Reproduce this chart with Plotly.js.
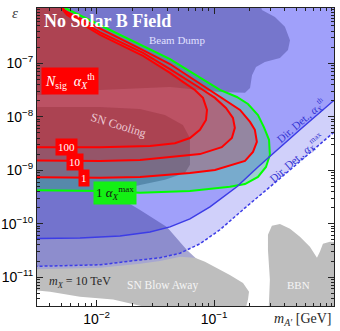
<!DOCTYPE html>
<html>
<head>
<meta charset="utf-8">
<script src="https://cdn.plot.ly/plotly-3.0.1.min.js"></script>
<style>
  html, body { margin: 0; padding: 0; background: white; }
  #myViz { width: 340px; height: 331px; }
</style>
</head>
<body>
<div id="myViz"></div>
<script>
// limits of the frame used to close the shaded regions (GeV, epsilon)
var massLo = 0.001, massHi = 2;
var epsLo = 1e-12, epsHi = 1e-5;

// Dir. Det., alpha_X^max (dashed)
var ddMaxMass = [0.002, 0.0107, 0.0234, 0.0346, 0.0512, 0.0757, 0.112, 0.183, 0.442, 1.03, 1.3];
var ddMaxEps  = [1.56e-11, 1.7e-11, 2.1e-11, 2.3e-11, 2.8e-11, 4.2e-11, 7.7e-11, 1.97e-10, 1.01e-9, 5.0e-9, 7.0e-9];

// Dir. Det., alpha_X^th (solid)
var ddThMass = [0.002, 0.00721, 0.0158, 0.0284, 0.0421, 0.0622, 0.0921, 0.156, 0.236, 0.363, 0.537, 1.03, 1.3];
var ddThEps  = [5.2e-11, 5.4e-11, 5.9e-11, 7.0e-11, 8.7e-11, 1.23e-10, 2.06e-10, 4.9e-10, 1.15e-9, 2.7e-9, 5.7e-9, 1.97e-8, 2.6e-8];

// Beam Dump
var bdMass = [0.002, 0.0107, 0.0421, 0.112, 0.183, 0.202, 0.210, 0.227, 0.27, 0.363, 0.425, 0.442, 0.40, 0.329, 0.255, 0.22, 0.002];
var bdEps  = [2.34e-8, 3.17e-8, 3.6e-8, 2.9e-8, 2.8e-8, 3.45e-8, 6.0e-8, 8.5e-8, 1.06e-7, 1.26e-7, 1.77e-7, 2.7e-7, 4.8e-7, 7.3e-7, 9.9e-7, 3e-6, 3e-6];

// SN Cooling
var snCoolMass = [0.002, 0.0107, 0.0234, 0.0381, 0.0542, 0.0622, 0.0622, 0.0564, 0.0381, 0.0234, 0.0130, 0.0234, 0.0396, 0.0586, 0.0803, 0.0512, 0.002];
var snCoolEps  = [1.52e-8, 1.52e-8, 1.4e-8, 1.08e-8, 7.0e-9, 4.0e-9, 1.26e-9, 8.9e-10, 6.6e-10, 5.3e-10, 3.9e-10, 1.81e-10, 8.7e-11, 3.2e-11, 1.7e-11, 1.1e-11, 1.1e-11];

// SN Blow Away
var snBlowMass = [0.002, 0.0107, 0.0234, 0.0346, 0.0512, 0.0685, 0.0835, 0.1016, 0.136, 0.176, 0.198, 0.194, 0.18, 0.0234, 0.0138, 0.00721, 0.00401, 0.002];
var snBlowEps  = [1.37e-11, 1.49e-11, 1.77e-11, 2.0e-11, 2.4e-11, 2.3e-11, 1.93e-11, 1.56e-11, 1.1e-11, 7.8e-12, 5.3e-12, 3.8e-12, 2e-12, 2.9e-12, 3.8e-12, 4.3e-12, 5.3e-12, 6.3e-12];

// BBN
var bbnMass = [0.29, 0.298, 0.287, 0.287, 0.31, 0.363, 0.442, 0.537, 0.653, 0.75, 0.794, 0.843, 0.967, 1.2, 1.2];
var bbnEps  = [2e-12, 8.9e-12, 3.2e-11, 6.2e-11, 9.1e-11, 9.9e-11, 8.0e-11, 5.7e-11, 3.7e-11, 2.3e-11, 2.97e-11, 4.2e-11, 4.6e-11, 4.4e-11, 2e-12];

// 1 alpha_X^max contour
var greenMass = [0.001, 0.0107, 0.0234, 0.0622, 0.136, 0.183, 0.236, 0.276, 0.298, 0.293, 0.265, 0.236, 0.194, 0.156, 0.112, 0.0757, 0.0542, 0.0421, 0.0248, 0.0107, 0.00538, 0.0030, 0.001];
var greenEps  = [4.3e-10, 4.1e-10, 3.8e-10, 4.1e-10, 4.9e-10, 5.5e-10, 7.5e-10, 1.15e-9, 1.93e-9, 3.7e-9, 6.4e-9, 1.08e-8, 1.73e-8, 2.34e-8, 3.17e-8, 5.5e-8, 8.5e-8, 1.2e-7, 2.1e-7, 5.2e-7, 1.08e-6, 3e-6, 3e-6];

// N_sig contours, alpha_X^th
var n1Mass = [0.001, 0.0107, 0.0234, 0.0622, 0.1016, 0.1445, 0.183, 0.214, 0.231, 0.222, 0.202, 0.166, 0.1236, 0.0757, 0.0542, 0.0421, 0.0248, 0.0107, 0.00538, 0.0032, 0.001];
var n1Eps  = [7.5e-10, 7.2e-10, 7.5e-10, 8.9e-10, 1.01e-9, 1.26e-9, 1.49e-9, 2.2e-9, 3.4e-9, 5.7e-9, 8.0e-9, 1.34e-8, 2.06e-8, 4.1e-8, 6.9e-8, 9.7e-8, 1.77e-7, 4.4e-7, 9.5e-7, 3e-6, 3e-6];

var n10Mass = [0.001, 0.0107, 0.0234, 0.0757, 0.116, 0.1415, 0.150, 0.1445, 0.126, 0.1016, 0.0757, 0.0542, 0.0421, 0.0248, 0.0107, 0.0056, 0.0033, 0.001];
var n10Eps  = [1.56e-9, 1.49e-9, 1.56e-9, 2.0e-9, 2.7e-9, 4.0e-9, 6.2e-9, 9.5e-9, 1.46e-8, 2.25e-8, 3.45e-8, 5.5e-8, 7.8e-8, 1.56e-7, 3.8e-7, 8.7e-7, 3e-6, 3e-6];

var n100Mass = [0.001, 0.0107, 0.0284, 0.0464, 0.0622, 0.0757, 0.0852, 0.0869, 0.0803, 0.0685, 0.0542, 0.0421, 0.0248, 0.0107, 0.0056, 0.0034, 0.001];
var n100Eps  = [2.7e-9, 2.7e-9, 2.85e-9, 3.2e-9, 4.0e-9, 5.7e-9, 8.7e-9, 1.34e-8, 2.25e-8, 3.17e-8, 4.5e-8, 6.6e-8, 1.37e-7, 3.4e-7, 8.0e-7, 3e-6, 3e-6];

var xTickVals = [0.01, 0.1];
var xTickText = ['10<sup>\u22122</sup>', '10<sup>\u22121</sup>'];
var yTickVals = [1e-11, 1e-10, 1e-9, 1e-8, 1e-7];
var yTickText = ['10<sup>\u221211</sup>', '10<sup>\u221210</sup>', '10<sup>\u22129</sup>', '10<sup>\u22128</sup>', '10<sup>\u22127</sup>'];

var serif = 'Liberation Serif, DejaVu Serif, serif';
var blueLine = 'rgb(60,60,230)';

function region(xs, ys, fillcolor, line) {
    return {
        x: xs, y: ys, type: 'scatter', mode: 'lines', fill: 'toself',
        fillcolor: fillcolor,
        line: line || {width: 0, color: 'rgba(0,0,0,0)'},
        hoverinfo: 'skip', showlegend: false
    };
}

var data = [
    region(ddMaxMass.concat([massHi, massHi, massLo]), ddMaxEps.concat([ddMaxEps[ddMaxEps.length - 1], epsHi, epsHi]), 'rgb(208,208,250)'),
    region(ddThMass.concat([massHi, massHi, massLo]), ddThEps.concat([ddThEps[ddThEps.length - 1], epsHi, epsHi]), 'rgb(160,160,250)'),
    region(bdMass, bdEps, 'rgb(118,118,204)'),
    region(snCoolMass, snCoolEps, 'rgba(60,60,150,0.45)'),
    region(snBlowMass, snBlowEps, 'rgb(190,190,190)'),
    region(bbnMass, bbnEps, 'rgb(190,190,190)'),
    region(greenMass, greenEps, 'rgba(0,205,70,0.25)', {color: 'rgb(0,255,0)', width: 2}),
    region(n1Mass, n1Eps, 'rgba(255,0,0,0.21)', {color: 'rgb(255,0,0)', width: 2}),
    region(n10Mass, n10Eps, 'rgba(255,0,0,0.21)', {color: 'rgb(255,0,0)', width: 2}),
    region(n100Mass, n100Eps, 'rgba(255,0,0,0.21)', {color: 'rgb(255,0,0)', width: 2}),
    {x: ddThMass, y: ddThEps, type: 'scatter', mode: 'lines', line: {color: blueLine, width: 1.5}, hoverinfo: 'skip', showlegend: false},
    {x: ddMaxMass, y: ddMaxEps, type: 'scatter', mode: 'lines', line: {color: blueLine, width: 1.5, dash: '3px,2px'}, hoverinfo: 'skip', showlegend: false}
];

function label(text, x, y, opts) {
    var a = {
        text: text, x: x, y: y, xref: 'paper', yref: 'paper', showarrow: false,
        xanchor: 'center', yanchor: 'middle',
        font: {family: serif, size: 11, color: 'white'}
    };
    for (var k in opts) a[k] = opts[k];
    return a;
}

var annotations = [
    label('<b>No Solar B Field</b>', 0.017, 0.956, {xanchor: 'left', font: {family: serif, size: 18, color: 'white'}}),
    label('Beam Dump', 0.471, 0.893, {font: {family: serif, size: 11, color: 'rgb(225,225,255)'}}),
    label('SN Cooling', 0.273, 0.607, {textangle: 17, font: {family: serif, size: 12, color: 'rgb(235,200,210)'}}),
    label('SN Blow Away', 0.421, 0.07, {font: {family: serif, size: 11.5, color: 'rgb(245,245,245)'}}),
    label('BBN', 0.879, 0.07, {font: {family: serif, size: 11, color: 'rgb(245,245,245)'}}),
    label('<i>m</i><sub><i>X</i></sub> = 10 TeV', 0.145, 0.081, {font: {family: serif, size: 12, color: 'rgb(40,40,40)'}}),
    label('Dir. Det., <i>\u03b1</i><sub><i>X</i></sub><sup>th</sup>', 0.89, 0.622, {textangle: -41, font: {family: serif, size: 11, color: 'rgb(50,50,210)'}}),
    label('Dir. Det., <i>\u03b1</i><sub><i>X</i></sub><sup>max</sup>', 0.875, 0.497, {textangle: -41, font: {family: serif, size: 11, color: 'rgb(50,50,210)'}}),
    label('<i>N</i><sub>sig</sub>  <i>\u03b1</i><sub><i>X</i></sub><sup>th</sup>', 0.111, 0.755, {bgcolor: 'rgb(255,0,0)', borderpad: 3, font: {family: serif, size: 14, color: 'white'}}),
    label('100', 0.101, 0.534, {bgcolor: 'rgb(255,0,0)', borderpad: 2, font: {family: serif, size: 11, color: 'white'}}),
    label('10', 0.128, 0.483, {bgcolor: 'rgb(255,0,0)', borderpad: 2, font: {family: serif, size: 11, color: 'white'}}),
    label('1', 0.158, 0.43, {bgcolor: 'rgb(255,0,0)', borderpad: 2, font: {family: serif, size: 11, color: 'white'}}),
    label('1 <i>\u03b1</i><sub><i>X</i></sub><sup>max</sup>', 0.263, 0.379, {bgcolor: 'rgb(20,240,20)', borderpad: 2, font: {family: serif, size: 13, color: 'rgb(20,20,20)'}}),
    label('<i>\u03b5</i>', -0.074, 0.983, {font: {family: serif, size: 15, color: 'rgb(60,60,60)'}}),
    label('<i>m</i><sub><i>A\u2032</i></sub> [GeV]', 1.0, -0.044, {xanchor: 'right', font: {family: serif, size: 14, color: 'rgb(40,40,40)'}})
];

var axisCommon = {
    type: 'log',
    showgrid: false, zeroline: false,
    showline: true, linecolor: '#222', linewidth: 1, mirror: 'allticks',
    ticks: 'inside', ticklen: 6, tickcolor: '#222',
    tickmode: 'array',
    minor: {ticks: 'inside', ticklen: 3, tickcolor: '#222', dtick: 'D1', showgrid: false},
    tickfont: {family: 'Liberation Sans, Arial, sans-serif', size: 14, color: 'black'}
};

var layout = {
    width: 340, height: 331,
    margin: {l: 37, r: 6, t: 8, b: 25},
    paper_bgcolor: 'white', plot_bgcolor: 'white',
    showlegend: false,
    xaxis: Object.assign({}, axisCommon, {range: [-2.508, 0.02], tickvals: xTickVals, ticktext: xTickText}),
    yaxis: Object.assign({}, axisCommon, {range: [-11.54, -5.966], tickvals: yTickVals, ticktext: yTickText}),
    annotations: annotations
};

Plotly.newPlot('myViz', data, layout, {staticPlot: true});
</script>
</body>
</html>
